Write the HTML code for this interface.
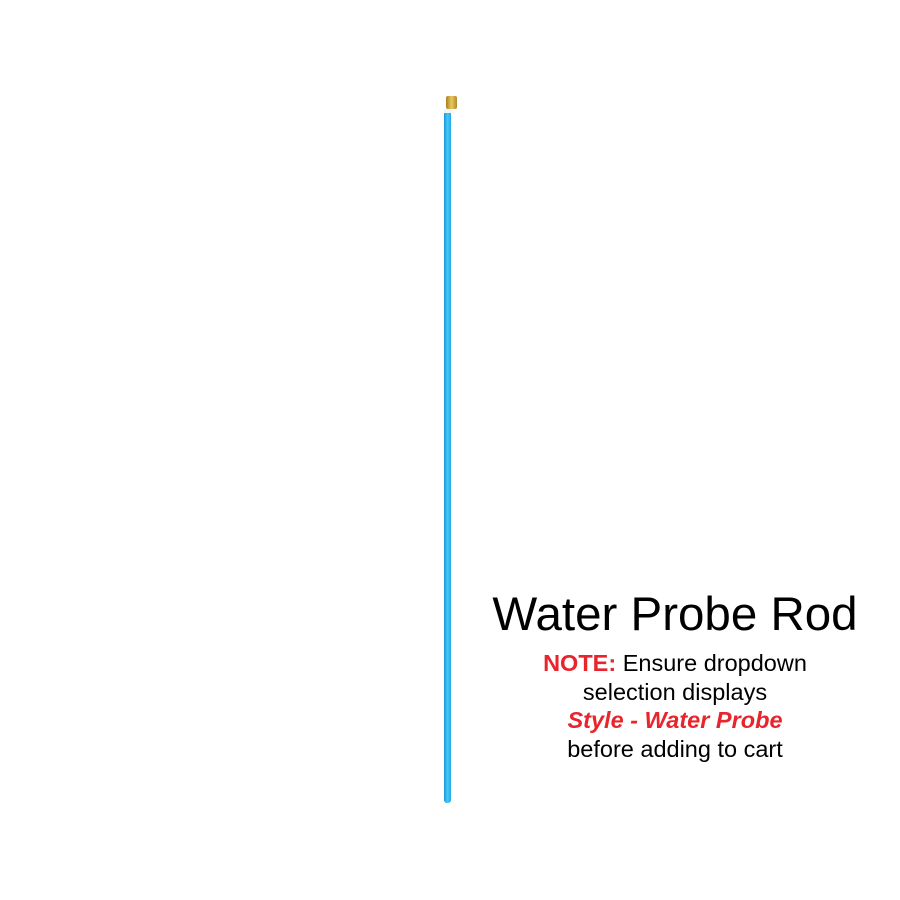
<!DOCTYPE html>
<html><head><style>
body{margin:0;width:900px;height:900px;background:#fff;position:relative;overflow:hidden;font-family:"Liberation Sans",sans-serif}
.t{position:absolute;left:450px;width:450px;text-align:center;color:#000}
</style></head><body>
<div style="position:absolute;left:446px;top:96px;width:11px;height:13px;background:linear-gradient(90deg,#a8801c,#e8c860,#b08a28);border-radius:2px"></div>
<div style="position:absolute;left:444px;top:109px;width:9px;height:4px;background:#f4f4f4"></div>
<div style="position:absolute;left:444px;top:113px;width:7px;height:690px;background:linear-gradient(90deg,#1a98d8,#48c8f4 50%,#20a8e8);border-radius:0 0 3px 3px"></div>
<div class="t" style="top:589px;font-size:47.5px;line-height:52px">Water Probe Rod</div>
<div class="t" style="top:649px;font-size:23.5px;line-height:28.5px"><b style="color:#e8242c">NOTE:</b> Ensure dropdown<br>selection displays<br><b style="color:#e8242c;font-style:italic">Style - Water Probe</b><br>before adding to cart</div>
</body></html>
